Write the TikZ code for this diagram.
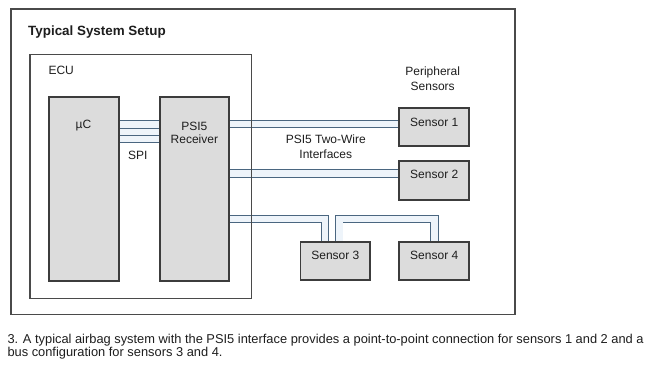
\documentclass[tikz,border=0pt]{standalone}
\usepackage{fontspec}
\setmainfont{Liberation Sans}
\usetikzlibrary{calc}
\definecolor{boxfill}{HTML}{DCDCDC}
\definecolor{boxline}{HTML}{3C3C3C}
\definecolor{frameline}{HTML}{4A4A4A}
\definecolor{wireline}{HTML}{4A6680}
\definecolor{wirefill}{HTML}{EEF4FA}
\definecolor{txt}{HTML}{1E1E1E}
\begin{document}
\begin{tikzpicture}[x=1pt,y=-1pt,
  frame/.style={draw=frameline, line width=1.2pt},
  blk/.style={draw=boxline, fill=boxfill, line width=1.2pt, inner sep=0pt},
  wire/.style={draw=wireline, line width=0.9pt, double=wirefill, double distance=6.6pt},
  spiline/.style={draw=wireline, line width=0.9pt},
  lbl/.style={font=\fontsize{12}{13}\selectfont, text=txt, inner sep=0pt},
  ttl/.style={font=\fontsize{13.4}{15}\selectfont\bfseries, text=txt, inner sep=0pt},
  captext/.style={font=\fontsize{12.85}{13}\selectfont, text=txt, inner sep=0pt}]
\useasboundingbox[fill=white] (0,0) rectangle (650,366);

% outer frame
\draw[frame] (11,9) rectangle (515,314.3);

% blocks (positions)
\node[blk, minimum width=69, minimum height=183.4] (uc) at (83.8,189) {};
\node[blk, minimum width=68.7, minimum height=183.4] (rx) at (194.35,189) {};
\node[blk, minimum width=69.5, minimum height=37.7] (s1) at (434.25,127.15) {};
\node[blk, minimum width=69.5, minimum height=38.3] (s2) at (434.25,180.85) {};
\node[blk, minimum width=69.3, minimum height=37.7] (s3) at (335.35,261.15) {};
\node[blk, minimum width=69.5, minimum height=37.7] (s4) at (434.25,261.15) {};

% wire coordinates
\coordinate (w1) at (0,123.85);
\coordinate (w2) at (0,173.65);
\coordinate (b1) at (325,219.15);
\coordinate (b2) at (339.2,219.15);
\coordinate (b3) at (434.5,219.15);
\coordinate (spa) at (0,120.7);
\coordinate (spb) at (0,128);
\coordinate (spc) at (0,135);
\coordinate (spd) at (0,142);

% SPI bus
\fill[wirefill] (uc.east |- spa) rectangle (rx.west |- spd);
\foreach \c in {spa,spb,spc,spd}
  \draw[spiline] (uc.east |- \c) -- (rx.west |- \c);

% PSI5 two-wire interfaces
\draw[wire] (rx.east |- w1) -- (s1.west |- w1);
\draw[wire] (rx.east |- w2) -- (s2.west |- w2);
\draw[wire] (rx.east |- b1) -| (b1 |- s3.north);
\draw[wire] (b2 |- s3.north) -- (b2) -- (b3) -- (b3 |- s4.north);

% redraw block borders on top of wire ends
\foreach \n in {uc,rx,s1,s2,s3,s4}
  \draw[boxline, line width=1.2pt] (\n.south west) rectangle (\n.north east);

% ECU frame
\draw[frame] (30,54.3) rectangle (251.7,298.3);

% labels
\node[ttl, anchor=base west] (title) at (28,36) {Typical System Setup};
\node[lbl, anchor=base west] (ecul) at (48.3,75) {ECU};
\node[lbl, anchor=base] (ucl) at (83.5,128.5) {µC};
\node[lbl, anchor=base] (rxl1) at (194.35,130.7) {PSI5};
\node[lbl, anchor=base] (rxl2) at (194.35,143.3) {Receiver};
\node[lbl, anchor=base] (spil) at (137.7,159.5) {SPI};
\node[lbl, anchor=base] (s1l) at ($(s1.north)+(0,18.4)$) {Sensor 1};
\node[lbl, anchor=base] (s2l) at ($(s2.north)+(0,17.6)$) {Sensor 2};
\node[lbl, anchor=base] (s3l) at ($(s3.north)+(0,17.4)$) {Sensor 3};
\node[lbl, anchor=base] (s4l) at ($(s4.north)+(0,17.4)$) {Sensor 4};
\node[lbl, anchor=base] (pl1) at (432.7,76) {Peripheral};
\node[lbl, anchor=base] (pl2) at (432.7,90.7) {Sensors};
\node[lbl, anchor=base] (tw1) at (325.8,143.3) {PSI5 Two-Wire};
\node[lbl, anchor=base] (tw2) at (325.8,158.3) {Interfaces};
\node[captext, anchor=base west] (cap1) at (7.3,343) {3. A typical airbag system with the PSI5 interface provides a point-to-point connection for sensors 1 and 2 and a};
\node[captext, anchor=base west] (cap2) at (7.3,356) {bus configuration for sensors 3 and 4.};
\end{tikzpicture}
\end{document}
